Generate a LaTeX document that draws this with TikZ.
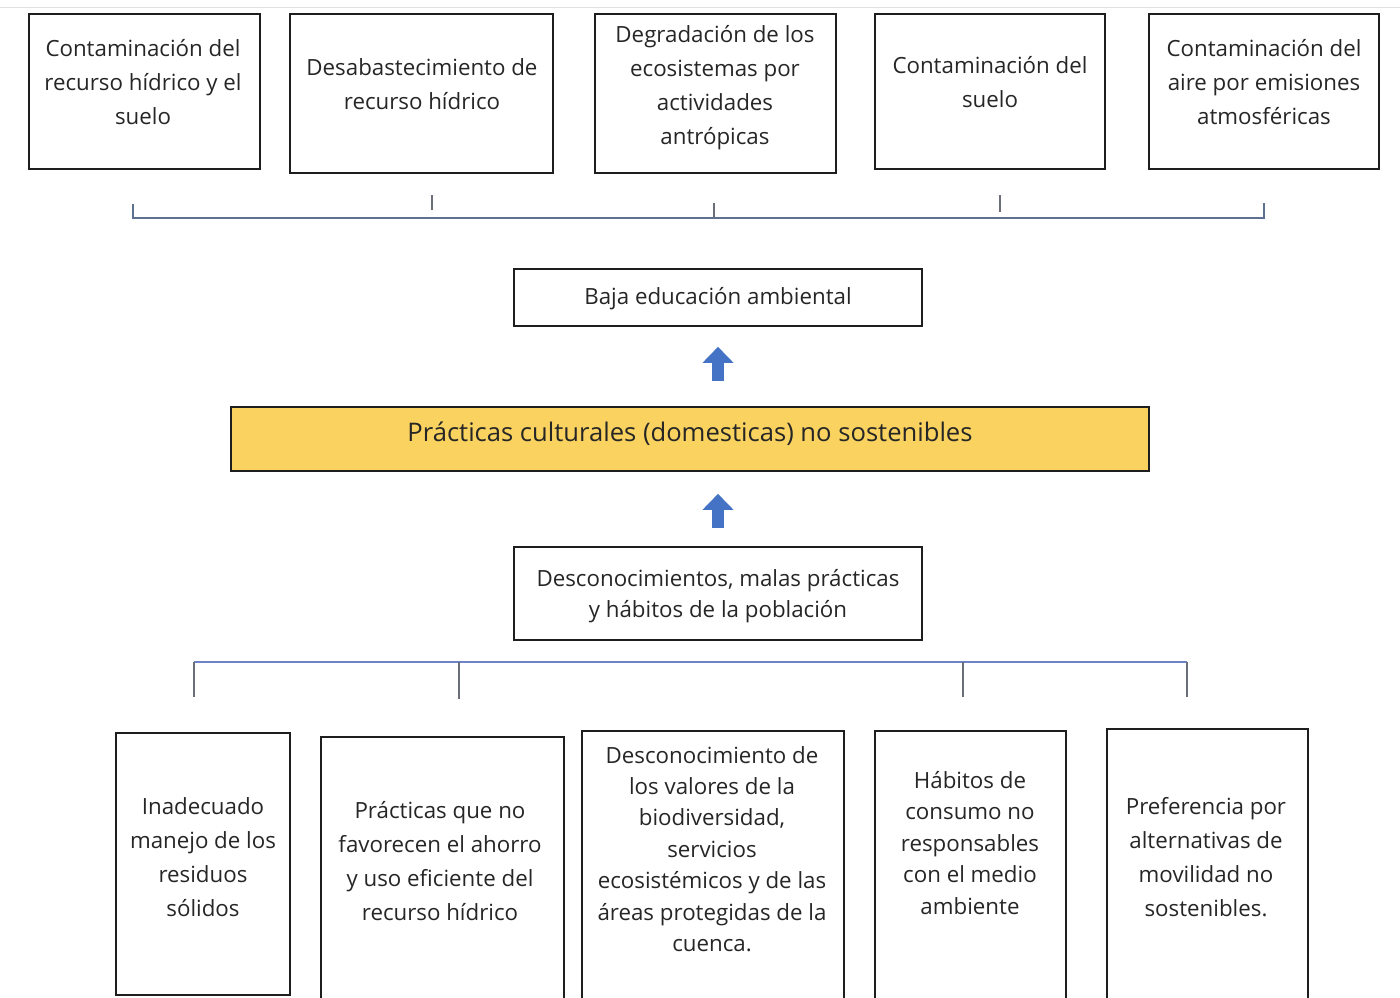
\documentclass[tikz,border=0pt]{standalone}
\usepackage{fontspec}
\setmainfont{Open Sans}
\usetikzlibrary{arrows.meta,calc,fit}
\definecolor{txt}{HTML}{262626}
\definecolor{boxline}{HTML}{1E1E1E}
\definecolor{yel}{RGB}{249,210,95}
\definecolor{arrowblue}{HTML}{4472C4}
\definecolor{brkc}{HTML}{5F7190}
\definecolor{hubc}{HTML}{6E82C8}
\definecolor{tickc}{HTML}{6A6E78}
\begin{document}
\begin{tikzpicture}[x=1pt,y=-1pt,
  box/.style={draw=boxline, line width=1.6pt, rectangle, inner sep=0pt},
  lbl/.style={align=center, text=txt, inner sep=0pt, font=\fontsize{22.3}{34}\selectfont},
  lbls/.style={align=center, text=txt, inner sep=0pt, font=\fontsize{22.3}{32.5}\selectfont},
  uparrow/.style={color=arrowblue, line width=12pt, -{Triangle[width=30pt,length=16pt]}},
  brk/.style={draw=brkc, line width=1.4pt},
  tick/.style={draw=tickc, line width=1.2pt},
  hub/.style={draw=hubc, line width=1.6pt}]
\useasboundingbox (0,0) rectangle (1400,997);
\clip (0,0) rectangle (1400,997);
\fill[white] (0,0) rectangle (1400,997);
% faint top rule
\draw[black!12, line width=1pt] (0,7) -- (1400,7);
% top boxes
\node[box, fit={(29,14) (260,169)}] (t1) {};
\node[box, fit={(290,14) (553,173)}] (t2) {};
\node[box, fit={(595,14) (836,173)}] (t3) {};
\node[box, fit={(875,14) (1105,169)}] (t4) {};
\node[box, fit={(1149,14) (1379,169)}] (t5) {};
\node[lbl] (t1x) at (143,82) {Contaminación del\\recurso hídrico y el\\suelo};
\node[lbl] (t2x) at (422,84) {Desabastecimiento de\\recurso hídrico};
\node[lbl] (t3x) at (715,88) {Degradación de los\\ecosistemas por\\actividades\\antrópicas};
\node[lbl] (t4x) at (990,82) {Contaminación del\\suelo};
\node[lbl] (t5x) at (1264,82) {Contaminación del\\aire por emisiones\\atmosféricas};
% top bracket
\coordinate (bl) at (133,218);
\coordinate (br) at (1264,218);
\draw[brk] ($(bl)+(0,-14)$) -- (bl) -- (br) -- ($(br)+(0,-15)$);
\draw[tick] (432,195) -- (432,210);
\draw[tick] (714,203) -- (714,218);
\draw[tick] (1000,195) -- (1000,212);
% middle chain
\node[box, fit={(514,269) (922,326)}] (baja) {};
\node[lbl] (bajax) at (718,299) {Baja educación ambiental};
\node[box, fill=yel, fit={(231,407) (1149,471)}] (yel) {};
\node[align=center, text=txt, inner sep=0pt, font=\fontsize{25.6}{30}\selectfont] (yelx) at (690,434) {Prácticas culturales (domesticas) no sostenibles};
\node[box, fit={(514,547) (922,640)}] (desc) {};
\node[lbl, font=\fontsize{22.3}{31}\selectfont] (descx) at (718,596) {Desconocimientos, malas prácticas\\y hábitos de la población};
\draw[uparrow, shorten <=25pt, shorten >=20pt] (yel.north -| baja.south) -- (baja.south);
\draw[uparrow, shorten <=18pt, shorten >=22pt] (desc.north) -- (desc.north |- yel.south);
% bottom boxes
\node[box, fit={(116,733) (290,995)}] (b1) {};
\node[box, fit={(321,737) (564,1010)}] (b2) {};
\node[box, fit={(582,731) (844,1010)}] (b3) {};
\node[box, fit={(875,731) (1066,1010)}] (b4) {};
\node[box, fit={(1107,729) (1308,1010)}] (b5) {};
\node[lbls, font=\fontsize{22.3}{34}\selectfont] (b1x) at (203,857) {Inadecuado\\manejo de los\\residuos\\sólidos};
\node[lbls, font=\fontsize{22.3}{34}\selectfont] (b2x) at (440,861) {Prácticas que no\\favorecen el ahorro\\y uso eficiente del\\recurso hídrico};
\node[lbls, font=\fontsize{22.3}{31.4}\selectfont] (b3x) at (712,849) {Desconocimiento de\\los valores de la\\biodiversidad,\\servicios\\ecosistémicos y de las\\áreas protegidas de la\\cuenca.};
\node[lbls, font=\fontsize{22.3}{31.5}\selectfont] (b4x) at (970,843) {Hábitos de\\consumo no\\responsables\\con el medio\\ambiente};
\node[lbls, font=\fontsize{22.3}{34}\selectfont] (b5x) at (1206,857) {Preferencia por\\alternativas de\\movilidad no\\sostenibles.};
% bottom hub
\coordinate (hl) at (194,662);
\coordinate (hr) at (1187,662);
\draw[hub] (hl) -- (hr);
\draw[tick] ($(desc.south)+(-4,0)$) -- ($(desc.south)+(-4,0)$ |- b3.north);
\draw[tick] (hl) -- ++(0,35);
\draw[tick] (459,662) -- ++(0,37);
\draw[tick] (963,662) -- ++(0,35);
\draw[tick] (hr) -- ++(0,35);
\end{tikzpicture}
\end{document}
